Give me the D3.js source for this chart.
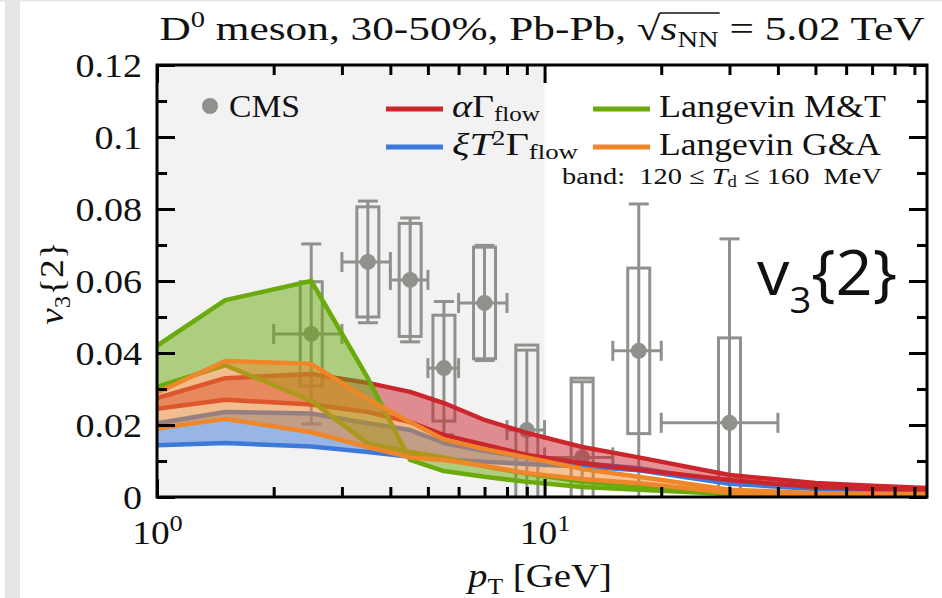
<!DOCTYPE html>
<html>
<head>
<meta charset="utf-8">
<script src="https://cdn.jsdelivr.net/npm/d3@7"></script>
<style>
  html, body { margin: 0; padding: 0; background: #fff; }
  svg { display: block; }
  text { font-family: "Liberation Serif", "DejaVu Serif", serif; fill: #111; white-space: pre; }
</style>
</head>
<body>
<svg id="chart" width="942" height="598"></svg>
<script>
// ---- model grid (pT in GeV) ----
const pT = [1, 1.5, 2.5, 3.5, 4.5, 5.5, 7, 9, 12.5, 17.5, 30, 50, 70, 97];

// alpha*Gamma_flow, band edges
const redHi = [0.0275, 0.0330, 0.0342, 0.0317, 0.0292, 0.0261, 0.0214, 0.0178, 0.0139, 0.0110, 0.0061, 0.0039, 0.0031, 0.0025];
const redLo = [0.0245, 0.0270, 0.0257, 0.0236, 0.0208, 0.0172, 0.0145, 0.0117, 0.0094, 0.0076, 0.0047, 0.0028, 0.0022, 0.0019];
// xi*T^2*Gamma_flow
const blueHi = [0.0205, 0.0236, 0.0232, 0.0205, 0.0186, 0.0150, 0.0128, 0.0110, 0.0094, 0.0080, 0.0040, 0.0025, 0.0019, 0.0014];
const blueLo = [0.0144, 0.0150, 0.0140, 0.0125, 0.0112, 0.0104, 0.0098, 0.0092, 0.0085, 0.0074, 0.0037, 0.0022, 0.0017, 0.0012];
// Langevin M&T
const greenA = [0.0420, 0.0547, 0.0600, 0.0330, 0.0103, 0.0072, 0.0056, 0.0042, 0.0028, 0.0020, 0.0008, 0.0004, 0.0003, 0.0002];
const greenB = [0.0306, 0.0366, 0.0267, 0.0148, 0.0125, 0.0110, 0.0085, 0.0065, 0.0042, 0.0030, 0.0012, 0.0006, 0.0004, 0.0003];
// Langevin G&A
const orangeHi = [0.0290, 0.0378, 0.0370, 0.0272, 0.0208, 0.0160, 0.0133, 0.0110, 0.0078, 0.0056, 0.0020, 0.0011, 0.0009, 0.0008];
const orangeLo = [0.0190, 0.0217, 0.0180, 0.0139, 0.0110, 0.0103, 0.0086, 0.0066, 0.0050, 0.0038, 0.0012, 0.0008, 0.0006, 0.0005];

// ---- CMS measurement ----
const cmsPt    = [2.5, 3.5, 4.5, 5.5, 7, 9, 12.5, 17.5, 30];
const cmsBinLo = [2, 3, 4, 5, 6, 8, 10, 15, 20];
const cmsBinHi = [3, 4, 5, 6, 8, 10, 15, 20, 40];
const cmsV3    = [0.0453, 0.0653, 0.0603, 0.0358, 0.0539, 0.0186, 0.0110, 0.0406, 0.0206];
const cmsStat  = [0.0250, 0.0169, 0.0172, 0.0185, 0.0160, 0.0222, 0.0210, 0.0408, 0.0511];
const cmsSyst  = [0.0145, 0.0153, 0.0157, 0.0147, 0.0155, 0.0236, 0.0220, 0.0230, 0.0236];

// ---- axes ----
const xDomain = [1, 97];
const yDomain = [0, 0.12];
const yMajor = [0, 0.02, 0.04, 0.06, 0.08, 0.1, 0.12];
const yMinor = [0.01, 0.03, 0.05, 0.07, 0.09, 0.11];
const xMajor = [1, 10];
const xMinor = [2, 3, 4, 5, 6, 7, 8, 9, 20, 30, 40, 50, 60, 70, 80, 90];
const xTickExp = ["0", "1"];
const shadeEnd = 10;

const W = 942, H = 598;
const M = { left: 157, right: 927, top: 65, bottom: 497 };
const svg = d3.select("#chart");

// page edge strip
svg.append("rect").attr("x", 5).attr("y", 0).attr("width", 15).attr("height", H).attr("fill", "#e6e6e6");
svg.append("rect").attr("x", 0).attr("y", 0).attr("width", W).attr("height", 1.5).attr("fill", "#e6e6e6");

const x = d3.scaleLog().domain(xDomain).range([M.left, M.right]);
const y = d3.scaleLinear().domain(yDomain).range([M.bottom, M.top]);

svg.append("defs").append("clipPath").attr("id", "plotClip")
  .append("rect").attr("x", M.left).attr("y", M.top)
  .attr("width", M.right - M.left).attr("height", M.bottom - M.top);

const plot = svg.append("g").attr("clip-path", "url(#plotClip)");

// shaded low-pT region
plot.append("rect")
  .attr("x", x(xDomain[0])).attr("y", M.top)
  .attr("width", x(shadeEnd) - x(xDomain[0])).attr("height", M.bottom - M.top)
  .attr("fill", "#f2f2f2");

// CMS points: systematic boxes, statistical bars, bin widths
const grey = "#8f918d";
const cms = plot.append("g").attr("stroke", grey).attr("stroke-width", 3).attr("fill", "none");
cmsPt.forEach((p, i) => {
  const v = cmsV3[i];
  const cx = x(p), cy = y(v);
  const boxW = 22, cap = 10;
  cms.append("rect")
    .attr("x", cx - boxW / 2).attr("width", boxW)
    .attr("y", y(v + cmsSyst[i])).attr("height", y(v - cmsSyst[i]) - y(v + cmsSyst[i]));
  const yt = y(v + cmsStat[i]), yb = y(v - cmsStat[i]);
  cms.append("line").attr("x1", cx).attr("x2", cx).attr("y1", yt).attr("y2", yb);
  cms.append("line").attr("x1", cx - cap).attr("x2", cx + cap).attr("y1", yt).attr("y2", yt);
  cms.append("line").attr("x1", cx - cap).attr("x2", cx + cap).attr("y1", yb).attr("y2", yb);
  const xl = x(cmsBinLo[i]), xr = x(cmsBinHi[i]);
  cms.append("line").attr("x1", xl).attr("x2", xr).attr("y1", cy).attr("y2", cy);
  cms.append("line").attr("x1", xl).attr("x2", xl).attr("y1", cy - cap).attr("y2", cy + cap);
  cms.append("line").attr("x1", xr).attr("x2", xr).attr("y1", cy - cap).attr("y2", cy + cap);
  cms.append("circle").attr("cx", cx).attr("cy", cy).attr("r", 8).attr("fill", grey).attr("stroke", "none");
});

// model bands (temperature range shown as filled region between two curves)
const colors = { red: "#cc262d", blue: "#3c79d8", green: "#6aaa0c", orange: "#f0862a" };
const bands = [
  { a: blueHi, b: blueLo, c: colors.blue },
  { a: redHi, b: redLo, c: colors.red },
  { a: greenA, b: greenB, c: colors.green },
  { a: orangeHi, b: orangeLo, c: colors.orange }
];
const area = d3.area().x((d, i) => x(pT[i]));
const line = d3.line().x((d, i) => x(pT[i])).y(d => y(d));
bands.forEach(bd => {
  const g = plot.append("g");
  g.append("path")
    .attr("d", area.y0((d, i) => y(bd.b[i])).y1((d, i) => y(bd.a[i]))(pT))
    .attr("fill", bd.c).attr("fill-opacity", 0.5);
  [bd.a, bd.b].forEach(arr => {
    g.append("path").attr("d", line(arr)).attr("fill", "none")
      .attr("stroke", bd.c).attr("stroke-width", 4.5)
      .attr("stroke-linejoin", "round").attr("stroke-linecap", "butt");
  });
});

// ticks on all four sides, pointing inward
function tickLayer(gen, tf, width) {
  svg.append("g").attr("transform", tf).call(gen).call(g => {
    g.select(".domain").remove();
    g.selectAll(".tick line").attr("stroke", "#000").attr("stroke-width", width);
    g.selectAll(".tick text").remove();
  });
}
const majorLen = 18, minorLen = 10;
tickLayer(d3.axisLeft(y).tickValues(yMajor).tickSize(-majorLen), `translate(${M.left},0)`, 3);
tickLayer(d3.axisLeft(y).tickValues(yMinor).tickSize(-minorLen), `translate(${M.left},0)`, 3);
tickLayer(d3.axisRight(y).tickValues(yMajor).tickSize(-majorLen), `translate(${M.right},0)`, 3);
tickLayer(d3.axisRight(y).tickValues(yMinor).tickSize(-minorLen), `translate(${M.right},0)`, 3);
tickLayer(d3.axisBottom(x).tickValues(xMajor).tickSize(-majorLen), `translate(0,${M.bottom})`, 3);
tickLayer(d3.axisBottom(x).tickValues(xMinor).tickSize(-minorLen), `translate(0,${M.bottom})`, 3);
tickLayer(d3.axisTop(x).tickValues(xMajor).tickSize(-majorLen), `translate(0,${M.top})`, 3);
tickLayer(d3.axisTop(x).tickValues(xMinor).tickSize(-minorLen), `translate(0,${M.top})`, 3);

// frame
svg.append("rect").attr("x", M.left).attr("y", M.top)
  .attr("width", M.right - M.left).attr("height", M.bottom - M.top)
  .attr("fill", "none").attr("stroke", "#000").attr("stroke-width", 3);

// widen serif glyphs a little (text set in a broad book face)
function widen(sel, f) {
  sel.each(function () {
    const w = this.getComputedTextLength();
    d3.select(this).attr("textLength", w * f).attr("lengthAdjust", "spacingAndGlyphs");
  });
}
function fitWidth(sel, w) {
  sel.attr("textLength", w).attr("lengthAdjust", "spacingAndGlyphs");
}

// tick labels
const labelSize = 34;
svg.append("g").attr("transform", `translate(${M.left},0)`)
  .call(d3.axisLeft(y).tickValues(yMajor).tickSize(0).tickPadding(15)
    .tickFormat(d => String(+d.toFixed(2))))
  .call(g => {
    g.select(".domain").remove();
    g.attr("font-family", null).attr("font-size", null);
    g.selectAll("text").attr("font-size", labelSize).attr("fill", "#111").attr("dy", "0.34em")
      .call(widen, 1.12);
  });
svg.append("g").attr("transform", `translate(0,${M.bottom})`)
  .call(d3.axisBottom(x).tickValues(xMajor).tickSize(0).tickPadding(0).tickFormat(() => "10"))
  .call(g => {
    g.select(".domain").remove();
    g.attr("font-family", null).attr("font-size", null);
    g.selectAll("text").attr("font-size", labelSize).attr("fill", "#111")
      .attr("dy", null).attr("y", 47)
      .each(function (d, i) {
        d3.select(this).append("tspan").attr("dy", -13).attr("font-size", 24).text(xTickExp[i]);
      })
      .call(widen, 1.1);
  });

// mixed-style text helper
function rich(parent, px, py, size, parts, anchor, shift) {
  const s = shift || { sub: 0.2, sup: -0.38 };
  const t = parent.append("text").attr("x", px).attr("y", py)
    .attr("font-size", size).attr("text-anchor", anchor || "start");
  let cur = 0;
  parts.forEach(p => {
    let off = 0, fs = size;
    if (p.sub) { off = s.sub * size; fs = 0.66 * size; }
    if (p.sup) { off = s.sup * size; fs = 0.66 * size; }
    const ts = t.append("tspan").attr("dy", off - cur).attr("font-size", fs).text(p.t);
    if (p.it) ts.attr("font-style", "italic");
    cur = off;
  });
  return t;
}

// axis titles
rich(svg, 540, 587, 34, [{ t: "p", it: true }, { t: "T", sub: true }, { t: " [GeV]" }], "middle")
  .call(fitWidth, 144);
const yl = svg.append("g").attr("transform", "translate(63,283) rotate(-90)");
rich(yl, 0, 0, 34, [{ t: "v", it: true }, { t: "3", sub: true }, { t: "{2}" }], "middle")
  .call(widen, 1.1);

// title
const titleY = 40;
const title = rich(svg, 542, titleY, 34, [
  { t: "D" }, { t: "0", sup: true }, { t: " meson, 30-50%, Pb-Pb, " },
  { t: "√" }, { t: "s", it: true }, { t: "NN", sub: true }, { t: " = 5.02 TeV" }
], "middle").call(fitWidth, 765);
{
  const node = title.node();
  const full = node.textContent;
  const iRoot = full.indexOf("√");
  const iEnd = full.indexOf("NN") + 1;
  const x0 = node.getEndPositionOfChar(iRoot).x - 1;
  const x1 = node.getEndPositionOfChar(iEnd).x + 1;
  svg.append("line").attr("x1", x0).attr("x2", x1).attr("y1", titleY - 27).attr("y2", titleY - 27)
    .attr("stroke", "#111").attr("stroke-width", 1.6);
}

// legend
const legSize = 32;
const legShift = { sub: 0.12, sup: -0.3 };
const leg = svg.append("g");
leg.append("circle").attr("cx", 210).attr("cy", 106).attr("r", 8).attr("fill", grey);
rich(leg, 229, 117, legSize, [{ t: "CMS" }]).call(fitWidth, 71);
const legendRows = [
  { c: colors.red, lx: 386, ly: 109, w: 88, parts: [{ t: "α", it: true }, { t: "Γ" }, { t: "flow", sub: true }] },
  { c: colors.blue, lx: 386, ly: 147, w: 126, parts: [{ t: "ξT", it: true }, { t: "2", sup: true }, { t: "Γ" }, { t: "flow", sub: true }] },
  { c: colors.green, lx: 593, ly: 109, w: 227, parts: [{ t: "Langevin M&T" }] },
  { c: colors.orange, lx: 593, ly: 147, w: 222, parts: [{ t: "Langevin G&A" }] }
];
legendRows.forEach(r => {
  leg.append("line").attr("x1", r.lx).attr("x2", r.lx + 57).attr("y1", r.ly).attr("y2", r.ly)
    .attr("stroke", r.c).attr("stroke-width", 5);
  rich(leg, r.lx + 66, r.ly + 8, legSize, r.parts, "start", legShift).call(fitWidth, r.w);
});
rich(leg, 562, 184, 24, [{ t: "band:  120 ≤ " }, { t: "T", it: true }, { t: "d", sub: true }, { t: " ≤ 160  MeV" }], "start", legShift)
  .call(fitWidth, 320);

// panel tag
const tag = svg.append("text").attr("x", 757).attr("y", 295)
  .style("font-family", "'Open Sans', sans-serif").attr("font-size", 63).attr("fill", "#000");
tag.append("tspan").text("v");
tag.append("tspan").attr("dy", 18).attr("font-size", 37).text("3");
tag.append("tspan").attr("dy", -18).text("{2}");
tag.call(fitWidth, 140);
</script>
</body>
</html>
